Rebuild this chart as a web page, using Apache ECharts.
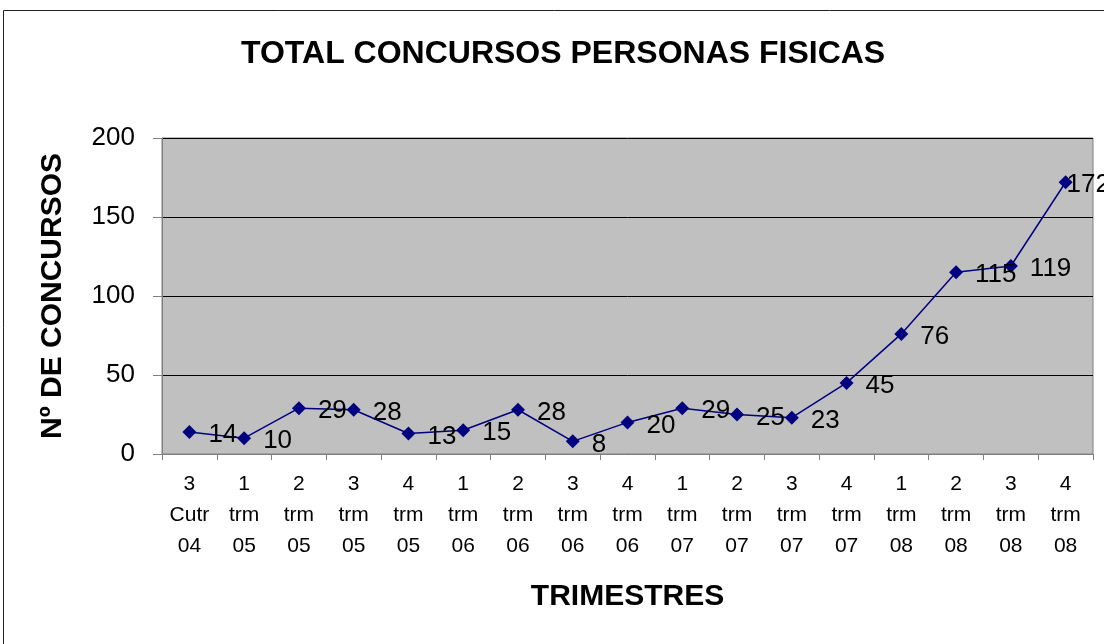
<!DOCTYPE html>
<html><head><meta charset="utf-8">
<script src="https://cdn.jsdelivr.net/npm/echarts@6/dist/echarts.min.js"></script>
<style>html,body{margin:0;padding:0;background:#fff}#c{width:1104px;height:644px}</style>
</head><body><div id="c"></div>
<script>
var categories = ['3\nCutr\n04','1\ntrm\n05','2\ntrm\n05','3\ntrm\n05','4\ntrm\n05','1\ntrm\n06','2\ntrm\n06','3\ntrm\n06','4\ntrm\n06','1\ntrm\n07','2\ntrm\n07','3\ntrm\n07','4\ntrm\n07','1\ntrm\n08','2\ntrm\n08','3\ntrm\n08','4\ntrm\n08'];
var values = [14,10,29,28,13,15,28,8,20,29,25,23,45,76,115,119,172];
var yTicks = [0,50,100,150,200];

var seriesData = values.map(function(v,i){
  if(i===values.length-1){ return {value:v,label:{distance:0,offset:[-6,3]}}; }
  return v;
});

var chart = echarts.init(document.getElementById('c'));
var F = 'Liberation Sans, Arial, sans-serif';
chart.setOption({
  animation:false,
  title:{text:'TOTAL CONCURSOS PERSONAS FISICAS',left:236,top:33,
    textStyle:{fontFamily:F,fontSize:32,fontWeight:'bold',color:'#000'}},
  graphic:[{type:'rect',shape:{x:3.5,y:10.5,width:1200,height:800},style:{fill:'none',stroke:'#222',lineWidth:1},silent:true}],
  grid:{left:162,right:11,top:138,bottom:190,show:true,backgroundColor:'#c0c0c0',borderColor:'#808080',borderWidth:1},
  xAxis:{type:'category',data:categories,boundaryGap:true,
    name:'TRIMESTRES',nameLocation:'middle',nameGap:128,
    nameTextStyle:{fontFamily:F,fontSize:30,fontWeight:'bold',color:'#000'},
    axisLine:{lineStyle:{color:'#808080',width:1}},
    axisTick:{show:true,length:6,lineStyle:{color:'#808080'},alignWithLabel:false},
    axisLabel:{interval:0,margin:15,fontFamily:F,fontSize:21,lineHeight:31,color:'#000'}},
  yAxis:{type:'value',min:yTicks[0],max:yTicks[yTicks.length-1],interval:50,
    name:'Nº DE CONCURSOS',nameLocation:'middle',nameGap:94,
    nameTextStyle:{fontFamily:F,fontSize:30,fontWeight:'bold',color:'#000'},
    axisLine:{show:true,lineStyle:{color:'#808080',width:1}},
    axisTick:{show:true,length:9,lineStyle:{color:'#808080'}},
    axisLabel:{margin:27,fontFamily:F,fontSize:26,color:'#000'},
    splitLine:{show:true,lineStyle:{color:'#000',width:1}}},
  series:[{type:'line',data:seriesData,symbol:'diamond',symbolSize:14,
    lineStyle:{color:'#000080',width:1.5},itemStyle:{color:'#000080'},
    label:{show:true,position:'right',distance:12,offset:[0,3],fontFamily:F,fontSize:26,color:'#000'}}]
});
</script></body></html>
